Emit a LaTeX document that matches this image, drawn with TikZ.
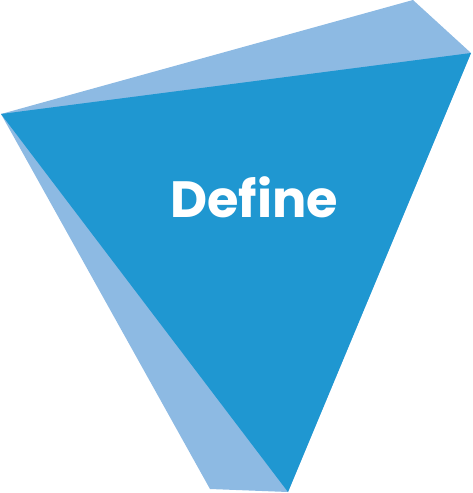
\documentclass[tikz,border=0pt]{standalone}
\usepackage{fontspec}
\newfontfamily\labelfont[Ligatures=NoCommon]{Poppins}
\definecolor{darkblue}{HTML}{1F97D1}
\definecolor{lightblue}{HTML}{8DBAE3}
\begin{document}
\begin{tikzpicture}[x=1pt,y=-1pt]
\useasboundingbox (0,0) rectangle (472,493);
\fill[lightblue] (1,114) -- (413,0) -- (471,53) -- (288,492) -- (210,489) -- cycle;
\fill[darkblue] (1,114) -- (471,53) -- (288,492) -- cycle;
\node[anchor=base, text=white, font=\labelfont\bfseries\fontsize{51}{54}\selectfont, inner sep=0] (title) at (254,217) {Define};
\end{tikzpicture}
\end{document}
